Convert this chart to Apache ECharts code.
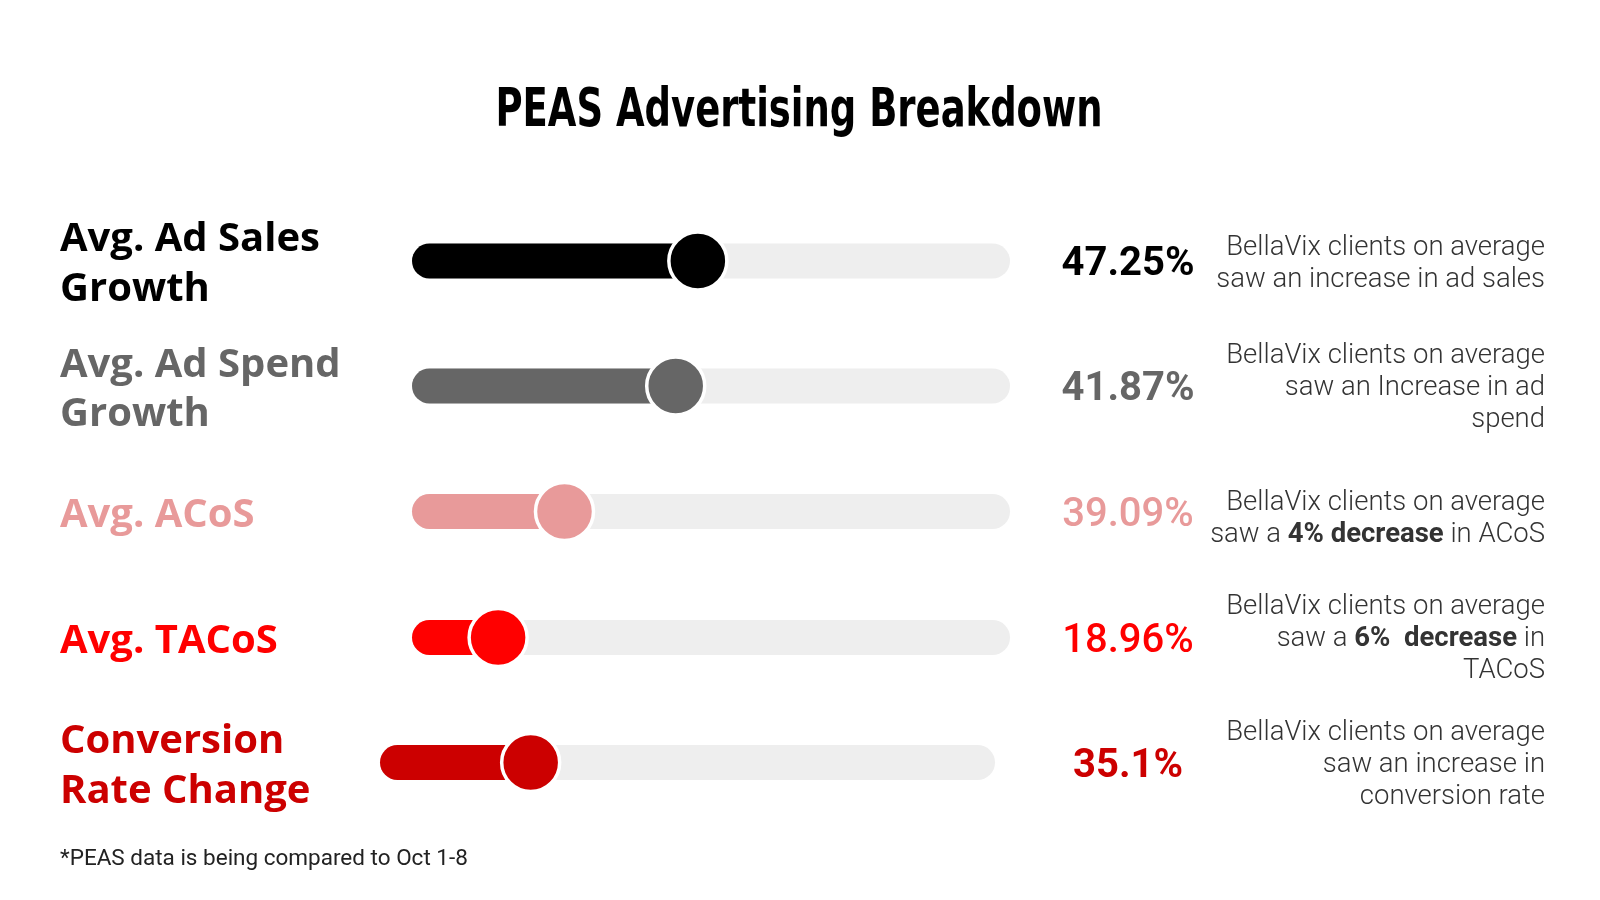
<!DOCTYPE html>
<html>
<head>
<meta charset="utf-8">
<script src="https://cdn.jsdelivr.net/npm/echarts@6/dist/echarts.min.js"></script>
<style>
html,body{margin:0;padding:0;background:#fff;}
#chart{width:1600px;height:900px;}
</style>
</head>
<body>
<div id="chart"></div>
<script>
// ---- data ----
const titleText = 'PEAS Advertising Breakdown';
const categories = ['Avg. Ad Sales\nGrowth', 'Avg. Ad Spend\nGrowth', 'Avg. ACoS', 'Avg. TACoS', 'Conversion\nRate Change'];
const valueLabels = ['47.25%', '41.87%', '39.09%', '18.96%', '35.1%'];
// knob position along each slider track (% of track length)
const sliderPos = [47.8, 44.1, 25.5, 14.4, 24.5];
const descriptions = [
  '{n|BellaVix clients on average}\n{n|saw an increase in ad sales}',
  '{n|BellaVix clients on average}\n{n|saw an Increase in ad}\n{n|spend}',
  '{n|BellaVix clients on average}\n{n|saw a }{b|4% decrease}{n| in ACoS}',
  '{n|BellaVix clients on average}\n{n|saw a }{b|6%  decrease}{n| in}\n{n|TACoS}',
  '{n|BellaVix clients on average}\n{n|saw an increase in}\n{n|conversion rate}'
];
const footnote = '*PEAS data is being compared to Oct 1-8';
const colors = ['#000000', '#666666', '#e89a9a', '#ff0000', '#cc0000'];

// ---- layout ----
const rowY = [261, 386, 511.5, 637.5, 762.5];
const trackLeft = [412, 412, 412, 412, 380];
const trackRight = [1010, 1010, 1010, 1010, 995];
const labelLineH = [50, 49.5, 49.5, 49.5, 49.5];
const descOffset = [3, 2, 8, 2, 3];
const valueWeight = [700, 700, 500, 500, 700];

const chart = echarts.init(document.getElementById('chart'), null, {renderer: 'canvas'});

// measure title to compress it like a condensed face
const titleFont = 'bold 53px "Liberation Sans Narrow", "DejaVu Sans Condensed", sans-serif';
const ctx = document.createElement('canvas').getContext('2d');
ctx.font = titleFont;
const titleScale = 607 / ctx.measureText(titleText).width;

const grids = [], xAxes = [], yAxes = [], series = [];
categories.forEach((c, i) => {
  grids.push({left: trackLeft[i], width: trackRight[i] - trackLeft[i], top: rowY[i] - 40, height: 80, containLabel: false});
  xAxes.push({type: 'value', gridIndex: i, min: 0, max: 100, show: false});
  yAxes.push({type: 'category', gridIndex: i, data: [c], show: false});
  series.push({
    type: 'bar', xAxisIndex: i, yAxisIndex: i, data: [sliderPos[i]], barWidth: 35,
    showBackground: true,
    backgroundStyle: {color: '#eeeeee', borderRadius: 17.5},
    itemStyle: {color: colors[i], borderRadius: 17.5},
    silent: true, animation: false, z: 2
  });
  series.push({
    type: 'scatter', xAxisIndex: i, yAxisIndex: i, data: [[sliderPos[i], 0]],
    symbol: 'circle', symbolSize: 58,
    itemStyle: {color: colors[i], borderColor: '#ffffff', borderWidth: 3.5, opacity: 1},
    silent: true, animation: false, z: 3
  });
});

const graphics = [];
graphics.push({
  type: 'text', x: 799, y: 112, scaleX: titleScale, originX: 0, originY: 0,
  style: {text: titleText, font: titleFont, fill: '#000', align: 'center', verticalAlign: 'middle'}
});
categories.forEach((c, i) => {
  graphics.push({
    type: 'text', x: 60, y: rowY[i] + 4,
    style: {text: c, fontFamily: 'Open Sans', fontSize: 40, fontWeight: 700, fill: colors[i],
      align: 'left', verticalAlign: 'middle', lineHeight: labelLineH[i]}
  });
  graphics.push({
    type: 'text', x: 1128, y: rowY[i] + 4,
    style: {text: valueLabels[i], fontFamily: 'Roboto', fontSize: 40, fontWeight: valueWeight[i], fill: colors[i],
      align: 'center', verticalAlign: 'middle'}
  });
  graphics.push({
    type: 'text', x: 1545, y: rowY[i] + descOffset[i],
    style: {
      text: descriptions[i], align: 'right', verticalAlign: 'middle',
      fontFamily: 'Roboto', fontSize: 27.5, fontWeight: 300, fill: '#333', lineHeight: 32,
      rich: {
        n: {fontFamily: 'Roboto', fontSize: 27.5, fontWeight: 300, fill: '#333333', lineHeight: 32, align: 'right'},
        b: {fontFamily: 'Roboto', fontSize: 27.5, fontWeight: 700, fill: '#333333', lineHeight: 32, align: 'right'}
      }
    }
  });
});
graphics.push({
  type: 'text', x: 60, y: 859,
  style: {text: footnote, fontFamily: 'Roboto', fontSize: 22.5, fontWeight: 400, fill: '#222', align: 'left', verticalAlign: 'middle'}
});

chart.setOption({
  animation: false,
  backgroundColor: '#ffffff',
  grid: grids,
  xAxis: xAxes,
  yAxis: yAxes,
  series: series,
  graphic: {elements: graphics}
});
</script>
</body>
</html>
